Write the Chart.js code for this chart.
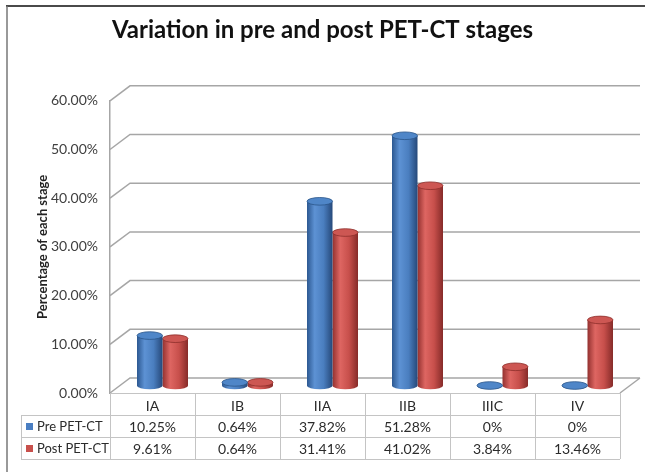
<!DOCTYPE html>
<html>
<head>
<meta charset="utf-8">
<title>Variation in pre and post PET-CT stages</title>
<script src="https://cdn.jsdelivr.net/npm/chart.js@4.4.1/dist/chart.umd.min.js"></script>
<style>
    html, body { margin: 0; padding: 0; background: #fff; overflow: hidden; }
    #wrap { width: 645px; height: 472px; }
    #stagesChart { display: block; }
</style>
</head>
<body>
<div id="wrap"><canvas id="stagesChart" width="645" height="472"></canvas></div>
<script>
(function () {
    'use strict';

    const stageLabels = ['IA', 'IB', 'IIA', 'IIB', 'IIIC', 'IV'];
    const prePetCt = [10.25, 0.64, 37.82, 51.28, 0, 0];
    const postPetCt = [9.61, 0.64, 31.41, 41.02, 3.84, 13.46];
    const seriesNames = ['Pre PET-CT', 'Post PET-CT'];
    const yMax = 60;
    const yStep = 10;

    // 3D look: back wall is shifted up and to the right
    const DEPTH_X = 20;
    const DEPTH_Y = -15;
    const GRID = '#a6a6a6';
    const TABLE_LINE = '#c4c4c4';
    const TEXT = '#2b2b2b';

    const palette = [
        { key: '#4a7ec2', stops: ['#2c5891', '#5d92d4', '#4a7ebf', '#26497a'], top: '#4f86c8', edge: '#2b5589' },
        { key: '#c8504c', stops: ['#93312f', '#de6662', '#c74f4b', '#862b29'], top: '#cd5753', edge: '#8d2e2b' }
    ];

    function formatPct(v) {
        return v === 0 ? '0%' : v.toFixed(2) + '%';
    }

    const frame = {
        id: 'frame',
        beforeDraw(chart) {
            const ctx = chart.ctx;
            ctx.save();
            ctx.fillStyle = '#fff';
            ctx.fillRect(0, 0, chart.width, chart.height);
            ctx.strokeStyle = '#4a4a4a';
            ctx.lineWidth = 2;
            ctx.beginPath();
            ctx.moveTo(6, 6);
            ctx.lineTo(chart.width, 6);
            ctx.stroke();
            ctx.strokeStyle = '#777';
            ctx.lineWidth = 1.5;
            ctx.beginPath();
            ctx.moveTo(7, 6);
            ctx.lineTo(7, chart.height);
            ctx.stroke();
            ctx.restore();
        }
    };

    const walls = {
        id: 'walls',
        beforeDatasetsDraw(chart) {
            const { ctx, chartArea: a, scales: { y } } = chart;
            ctx.save();
            ctx.strokeStyle = GRID;
            ctx.lineWidth = 1.5;
            ctx.beginPath();
            y.ticks.forEach(t => {
                const py = y.getPixelForValue(t.value);
                ctx.moveTo(a.left, py);
                ctx.lineTo(a.left + DEPTH_X, py + DEPTH_Y);
                ctx.lineTo(a.right + DEPTH_X, py + DEPTH_Y);
            });
            ctx.moveTo(a.right, a.bottom);
            ctx.lineTo(a.right + DEPTH_X, a.bottom + DEPTH_Y);
            ctx.stroke();
            ctx.restore();
        },
        beforeDatasetDraw(chart, args) {
            const ctx = chart.ctx;
            const pal = palette[args.index];
            ctx.save();
            ctx.translate(DEPTH_X / 2, DEPTH_Y / 2);
            args.meta.data.forEach(bar => {
                const { x, y, base, width } = bar.getProps(['x', 'y', 'base', 'width'], true);
                const rx = width / 2;
                const ry = rx * 0.3;
                const g = ctx.createLinearGradient(x - rx, 0, x + rx, 0);
                g.addColorStop(0, pal.stops[0]);
                g.addColorStop(0.3, pal.stops[1]);
                g.addColorStop(0.65, pal.stops[2]);
                g.addColorStop(1, pal.stops[3]);
                ctx.fillStyle = g;
                ctx.beginPath();
                ctx.moveTo(x - rx, y);
                ctx.lineTo(x - rx, base);
                ctx.ellipse(x, base, rx, ry, 0, Math.PI, 0, true);
                ctx.lineTo(x + rx, y);
                ctx.closePath();
                ctx.fill();

                ctx.beginPath();
                ctx.ellipse(x, y, rx, ry, 0, 0, Math.PI * 2);
                ctx.fillStyle = pal.top;
                ctx.fill();
                ctx.strokeStyle = pal.edge;
                ctx.lineWidth = 0.8;
                ctx.stroke();
            });
            ctx.restore();
            return false;
        }
    };

    const dataTable = {
        id: 'dataTable',
        afterDraw(chart) {
            const { ctx, chartArea: a, scales: { x } } = chart;
            const rowH = 22;
            const top = a.bottom;
            const labelLeft = 21;
            const colW = (a.right - a.left) / stageLabels.length;
            const rows = [prePetCt, postPetCt];

            ctx.save();
            ctx.strokeStyle = TABLE_LINE;
            ctx.lineWidth = 1;
            ctx.beginPath();
            ctx.moveTo(a.left, top + 0.5);
            ctx.lineTo(a.right, top + 0.5);
            for (let r = 1; r <= 3; r++) {
                const ly = Math.round(top + r * rowH) + 0.5;
                ctx.moveTo(labelLeft, ly);
                ctx.lineTo(a.right, ly);
            }
            for (let i = 0; i <= stageLabels.length; i++) {
                const lx = Math.round(a.left + i * colW) + 0.5;
                ctx.moveTo(lx, top);
                ctx.lineTo(lx, top + 3 * rowH);
            }
            ctx.moveTo(labelLeft + 0.5, top + rowH);
            ctx.lineTo(labelLeft + 0.5, top + 3 * rowH);
            ctx.stroke();

            ctx.font = '14px Lato';
            ctx.fillStyle = TEXT;
            ctx.textBaseline = 'middle';
            ctx.textAlign = 'center';
            stageLabels.forEach((lab, i) => {
                ctx.fillText(lab, x.getPixelForValue(i), top + rowH / 2 + 2);
            });
            rows.forEach((vals, r) => {
                const cy = top + (r + 1) * rowH + rowH / 2 + 1;
                ctx.font = '14px Lato';
                ctx.textAlign = 'center';
                ctx.fillStyle = TEXT;
                vals.forEach((v, i) => {
                    ctx.fillText(formatPct(v), x.getPixelForValue(i), cy);
                });
                ctx.fillStyle = palette[r].key;
                ctx.fillRect(26, cy - 4, 7, 7);
                ctx.font = '13px Lato';
                ctx.fillStyle = TEXT;
                ctx.textAlign = 'left';
                ctx.fillText(seriesNames[r], 37, cy);
            });
            ctx.restore();
        }
    };

    Chart.defaults.font.family = 'Lato';

    const ctx = document.getElementById('stagesChart');
    new Chart(ctx, {
        type: 'bar',
        data: {
            labels: stageLabels,
            datasets: [
                { label: seriesNames[0], data: prePetCt, backgroundColor: palette[0].key },
                { label: seriesNames[1], data: postPetCt, backgroundColor: palette[1].key }
            ]
        },
        options: {
            responsive: false,
            animation: false,
            events: [],
            categoryPercentage: 0.6,
            barPercentage: 1.0,
            layout: { padding: { left: 0, right: 0, top: 0, bottom: 79 } },
            plugins: {
                legend: { display: false },
                tooltip: { enabled: false },
                title: {
                    display: true,
                    text: 'Variation in pre and post PET-CT stages',
                    color: '#111',
                    font: { size: 24, weight: 'bold' },
                    padding: { top: 16, bottom: 56 }
                }
            },
            scales: {
                x: {
                    type: 'category',
                    display: false
                },
                y: {
                    min: 0,
                    max: yMax,
                    ticks: {
                        stepSize: yStep,
                        padding: 12,
                        color: '#404040',
                        font: { size: 14 },
                        callback: v => v.toFixed(2) + '%'
                    },
                    grid: { display: false, drawTicks: false },
                    border: { display: true, color: GRID, width: 1.5 },
                    title: {
                        display: true,
                        text: 'Percentage of each stage',
                        color: '#222',
                        font: { size: 13, weight: 'bold' },
                        padding: { top: 35, bottom: 0 }
                    },
                    afterFit(scale) { scale.width = 110; }
                },
                yRight: {
                    type: 'linear',
                    position: 'right',
                    display: true,
                    ticks: { display: false },
                    grid: { display: false },
                    border: { display: false },
                    afterFit(scale) { scale.width = 25; }
                }
            }
        },
        plugins: [frame, walls, dataTable]
    });
})();
</script>
</body>
</html>
